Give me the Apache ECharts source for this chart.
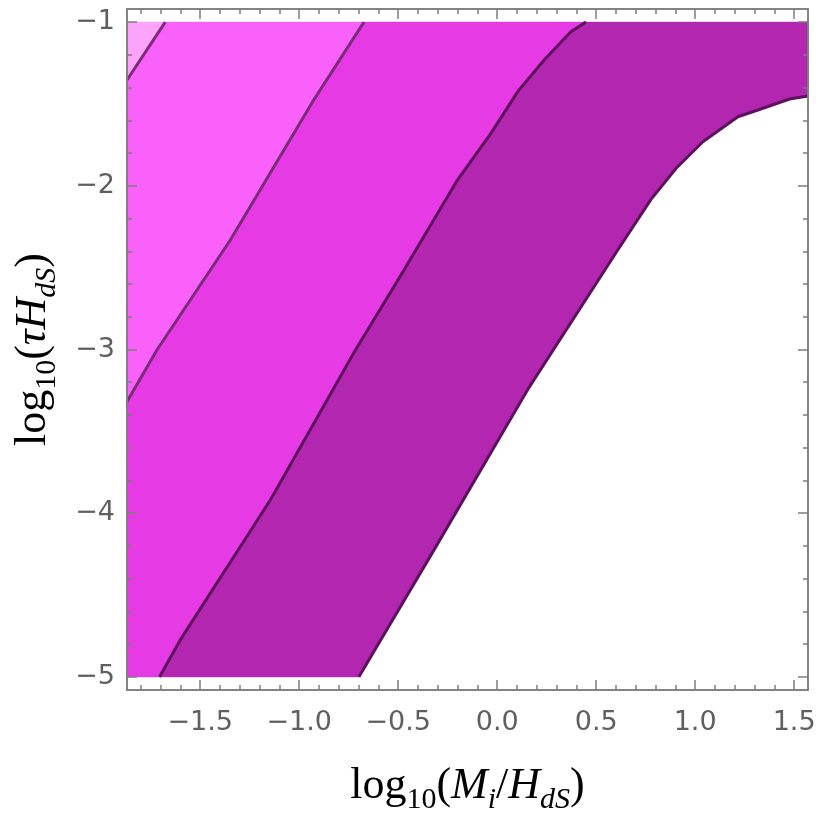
<!DOCTYPE html>
<html>
<head>
<meta charset="utf-8">
<script src="https://cdn.jsdelivr.net/npm/echarts@6/dist/echarts.min.js"></script>
<style>
  html, body { margin: 0; padding: 0; background: #fff; }
  #chart { width: 822px; height: 826px; }
</style>
</head>
<body>
<div id="chart"></div>
<script>
// axis ranges and tick labels
const xMin = -1.87
const xMax = 1.57
const yMin = -5.08
const yMax = -0.92
const xMajor = [-1.5, -1.0, -0.5, 0.0, 0.5, 1.0, 1.5]
const yMajor = [-5, -4, -3, -2, -1]

// region edge (fills span this y band)
const fillTop = -1
const fillBottom = -5

// contour lines [log10(M/H), log10(tau H)]
const line1 = [[-1.87, -1.354], [-1.677, -1.0]]
const line2 = [[-1.87, -3.319], [-1.719, -3.003], [-1.348, -2.331], [-0.927, -1.476], [-0.673, -1.0]]
const line3 = [[-1.706, -5.0], [-1.601, -4.774], [-1.146, -3.919], [-0.716, -3.003], [-0.471, -2.515],
  [-0.201, -1.965], [-0.032, -1.68], [0.103, -1.426], [0.237, -1.232], [0.372, -1.059], [0.448, -1.0]]
const line4 = [[-0.699, -5.0], [-0.319, -4.224], [0.153, -3.247], [0.609, -2.392], [0.777, -2.083],
  [0.904, -1.893], [1.039, -1.731], [1.216, -1.578], [1.317, -1.537], [1.477, -1.47], [1.57, -1.452]]

const fillColors = ['#fca3fc', '#fa61fa', '#e63ae4', '#b226b0']
const lineColors = ['#7a2c7a', '#7a2c7a', '#5e115e', '#5e115e']

// minor tick positions
const xMinor = []
for (let i = -18; i <= 15; i++) xMinor.push(i / 10)
const yMinor = []
for (let i = -25; i <= -5; i++) yMinor.push(i / 5)

const rev = (a) => a.slice().reverse()

// polygons for the filled bands, each bounded by two contour lines
const regions = [
  line1.concat([[xMin, fillTop]]),
  line1.concat(rev(line2)),
  line2.concat(rev(line3), [[xMin, fillBottom]]),
  line3.concat([[xMax, fillTop]], rev(line4))
]

const fmt = (d) => (v) => (v < 0 ? '\u2212' : '') + Math.abs(v).toFixed(d)

const frameColor = '#7d7d7d'
const labelStyle = { color: '#5f5f5f', fontFamily: 'DejaVu Sans', fontSize: 27 }
const serif = 'Liberation Serif'
const nameRich = {
  t: { fontFamily: serif, fontSize: 44, color: '#000', lineHeight: 60 },
  i: { fontFamily: serif, fontSize: 44, fontStyle: 'italic', color: '#000', lineHeight: 60 },
  s: { fontFamily: serif, fontSize: 30, color: '#000', lineHeight: 30, padding: [28, 0, 0, 0] },
  si: { fontFamily: serif, fontSize: 30, fontStyle: 'italic', color: '#000', lineHeight: 30, padding: [28, 0, 0, 0] }
}

function makeAxis(pos, min, max, values, len, opts) {
  return Object.assign({
    type: 'value',
    position: pos,
    min: min,
    max: max,
    axisLine: { show: true, onZero: false, lineStyle: { color: frameColor, width: 1.5 } },
    axisTick: { show: true, inside: true, length: len, customValues: values, lineStyle: { color: frameColor, width: 1.5 } },
    axisLabel: { show: false },
    splitLine: { show: false },
    z: 10
  }, opts || {})
}

const chart = echarts.init(document.getElementById('chart'))

chart.setOption({
  animation: false,
  grid: { left: 127, right: 14, top: 9, bottom: 136, containLabel: false, outerBoundsMode: 'none' },
  xAxis: [
    makeAxis('bottom', xMin, xMax, xMajor, 10, {
      axisLabel: Object.assign({ show: true, customValues: xMajor, formatter: fmt(1), margin: 19 }, labelStyle),
      name: '{t|log}{s|10}{t|(}{i|M}{si|i}{t|/}{i|H}{si|dS}{t|)}',
      nameLocation: 'middle',
      nameGap: 66,
      nameTextStyle: { rich: nameRich }
    }),
    makeAxis('bottom', xMin, xMax, xMinor, 5),
    makeAxis('top', xMin, xMax, xMajor, 10),
    makeAxis('top', xMin, xMax, xMinor, 5)
  ],
  yAxis: [
    makeAxis('left', yMin, yMax, yMajor, 10, {
      axisLabel: Object.assign({ show: true, customValues: yMajor, formatter: fmt(0), margin: 12 }, labelStyle),
      name: '{t|log}{s|10}{t|(}{i|\u03c4H}{si|dS}{t|)}',
      nameLocation: 'middle',
      nameRotate: 90,
      nameGap: 64,
      nameTextStyle: { rich: nameRich }
    }),
    makeAxis('left', yMin, yMax, yMinor, 5),
    makeAxis('right', yMin, yMax, yMajor, 10),
    makeAxis('right', yMin, yMax, yMinor, 5)
  ],
  series: [
    {
      type: 'custom',
      xAxisIndex: 0,
      yAxisIndex: 0,
      data: regions.map((r, i) => [i]),
      renderItem: (params, api) => {
        const idx = api.value(0)
        const pts = regions[idx].map(p => api.coord(p))
        return {
          type: 'polygon',
          shape: { points: pts },
          style: { fill: fillColors[idx], stroke: fillColors[idx], lineWidth: 0.5 }
        }
      },
      z: 1
    }
  ].concat([line1, line2, line3, line4].map((l, i) => ({
    type: 'line',
    xAxisIndex: 0,
    yAxisIndex: 0,
    data: l,
    showSymbol: false,
    symbol: 'none',
    lineStyle: { color: lineColors[i], width: 3 },
    z: 3
  })))
})
</script>
</body>
</html>
